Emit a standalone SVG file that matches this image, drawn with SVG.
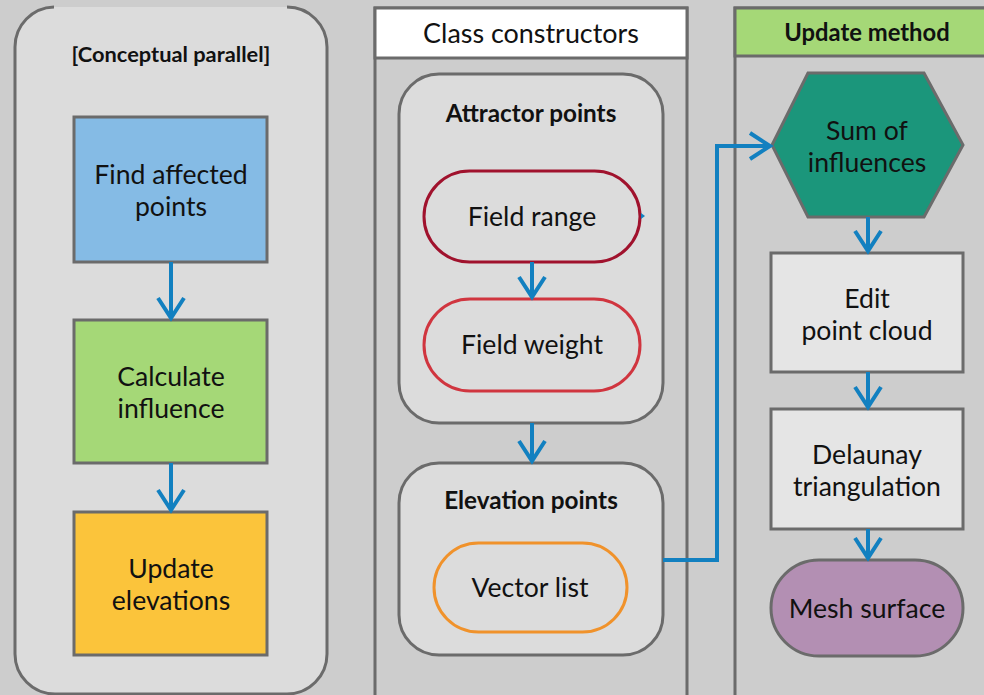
<svg xmlns="http://www.w3.org/2000/svg" width="984" height="695" viewBox="0 0 984 695">
<style>
.b{stroke:#6b6b6b;stroke-width:3}
.t{font-family:Lato,"Open Sans",sans-serif;font-size:26.6px;fill:#111;text-anchor:middle}
.h{font-family:Lato,"Open Sans",sans-serif;font-size:24.3px;font-weight:bold;fill:#111;text-anchor:middle}
.c{fill:none;stroke:#1280c0;stroke-width:4}
</style>
<defs>
<marker id="a" markerUnits="userSpaceOnUse" viewBox="-24 -16 28 32" markerWidth="28" markerHeight="32" refX="0" refY="0" orient="auto">
<path d="M-20,-13 L0,0 L-20,13" fill="none" stroke="#1280c0" stroke-width="4"/>
</marker>
</defs>
<rect width="984" height="695" fill="#cdcdcd"/>
<g id="conceptual">
<path d="M54,7 A40,40 0 0 0 15,47 V654 A40,40 0 0 0 55,694 H287 A40,40 0 0 0 327,654 V47 A40,40 0 0 0 287,7" fill="#dcdcdc" class="b"/>
<text class="h" x="171" y="62" style="font-size:21.8px">[Conceptual parallel]</text>
</g>
<g id="col-constructors">
<path d="M375,700 V8 H687 V700" fill="none" class="b"/>
<rect x="375" y="8" width="312" height="50" fill="#fff" class="b"/>
<text class="t" x="531" y="43" style="font-size:26.9px">Class constructors</text>
</g>
<g id="col-update">
<path d="M735,700 V8 H990" fill="none" class="b"/>
<rect x="735" y="8" width="260" height="48" fill="#a5d877" class="b"/>
<text class="h" x="867" y="41" style="font-size:23.8px">Update method</text>
</g>
<g id="find">
<rect x="74" y="117" width="193" height="145" fill="#85bbe5" class="b"/>
<text class="t" x="171" y="184">Find affected</text>
<text class="t" x="171" y="216">points</text>
</g>
<g id="calc">
<rect x="74" y="320" width="193" height="143" fill="#a5d877" class="b"/>
<text class="t" x="171" y="386">Calculate</text>
<text class="t" x="171" y="418">influence</text>
</g>
<g id="upd">
<rect x="74" y="512" width="193" height="143" fill="#fbc43b" class="b"/>
<text class="t" x="171" y="578">Update</text>
<text class="t" x="171" y="610">elevations</text>
</g>
<g id="attractor">
<rect x="399" y="74" width="264" height="349" rx="40" fill="#dcdcdc" class="b"/>
<text class="h" x="531" y="122">Attractor points</text>
</g>
<g id="fieldrange">
<rect x="424" y="171" width="216" height="91" rx="45.5" fill="#dcdcdc" stroke="#a0122d" stroke-width="3"/>
<text class="t" x="532" y="226">Field range</text>
</g>
<g id="fieldweight">
<rect x="424" y="299" width="216" height="92" rx="46" fill="#dcdcdc" stroke="#d0353f" stroke-width="3"/>
<text class="t" x="532" y="354">Field weight</text>
</g>
<g id="elevation">
<rect x="399" y="463" width="264" height="192" rx="40" fill="#dcdcdc" class="b"/>
<text class="h" x="531" y="509">Elevation points</text>
</g>
<g id="vectorlist">
<rect x="434" y="543" width="193" height="89" rx="44.5" fill="#dcdcdc" stroke="#f0922b" stroke-width="3"/>
<text class="t" x="530" y="597">Vector list</text>
</g>
<g id="sum">
<polygon points="808,73 924,73 963,145 924,217 808,217 772,145" fill="#1b967b" class="b"/>
<text class="t" x="867" y="140">Sum of</text>
<text class="t" x="867" y="172">influences</text>
</g>
<g id="edit">
<rect x="771" y="253" width="192" height="119" fill="#e5e5e5" class="b"/>
<text class="t" x="867" y="308">Edit</text>
<text class="t" x="867" y="340">point cloud</text>
</g>
<g id="delaunay">
<rect x="771" y="409" width="192" height="120" fill="#e5e5e5" class="b"/>
<text class="t" x="867" y="464">Delaunay</text>
<text class="t" x="867" y="496">triangulation</text>
</g>
<g id="mesh">
<rect x="771" y="560" width="192" height="96" rx="48" fill="#b38fb3" class="b"/>
<text class="t" x="867" y="618">Mesh surface</text>
</g>
<g id="connectors">
<path class="c" d="M171,262 V318" marker-end="url(#a)"/>
<path class="c" d="M171,463 V510" marker-end="url(#a)"/>
<path class="c" d="M532,262 V297" marker-end="url(#a)"/>
<path class="c" d="M532,423 V461" marker-end="url(#a)"/>
<path class="c" d="M868,217 V251" marker-end="url(#a)"/>
<path class="c" d="M868,372 V407" marker-end="url(#a)"/>
<path class="c" d="M868,529 V558" marker-end="url(#a)"/>
<path class="c" d="M663,560 H717 V146 H770" marker-end="url(#a)"/>
<polygon points="641,213 645,216 641,219" fill="#1280c0"/>
</g>
</svg>
